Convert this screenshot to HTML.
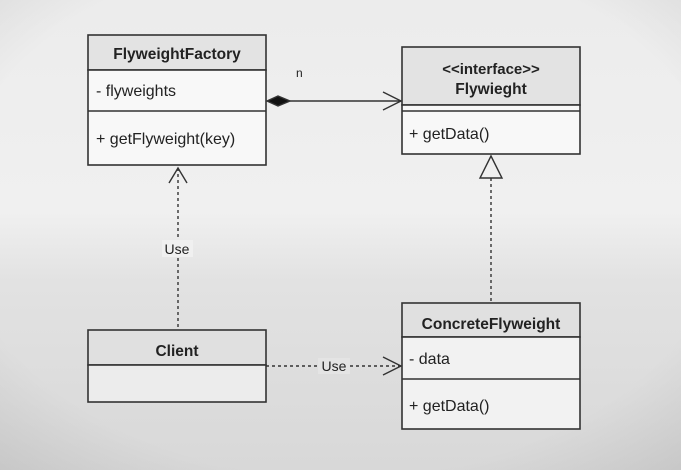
<!DOCTYPE html>
<html><head><style>
html,body{margin:0;padding:0}
body{width:681px;height:470px;overflow:hidden;background:linear-gradient(#ececec 0%,#f0f0f0 45%,#e2e2e2 60%,#d8d8d8 100%);font-family:"Liberation Sans",sans-serif}
</style></head><body>
<svg width="681" height="470" xmlns="http://www.w3.org/2000/svg" style="position:absolute;left:0;top:0">
<defs>
<radialGradient id="v" cx="50%" cy="45%" r="75%"><stop offset="75%" stop-color="#000" stop-opacity="0"/><stop offset="100%" stop-color="#000" stop-opacity="0.08"/></radialGradient>
</defs>
<rect width="681" height="470" fill="url(#v)"/>
<g stroke="#333" stroke-width="1.6" fill="none">
<rect x="88" y="35" width="178" height="35" fill="#e3e3e3"/>
<rect x="88" y="70" width="178" height="95" fill="#f8f8f8"/>
<line x1="88" y1="111" x2="266" y2="111"/>
<rect x="402" y="47" width="178" height="58" fill="#e3e3e3"/>
<rect x="402" y="105" width="178" height="49" fill="#f8f8f8"/>
<line x1="402" y1="111" x2="580" y2="111"/>
<rect x="88" y="330" width="178" height="35" fill="#e0e0e0"/>
<rect x="88" y="365" width="178" height="37" fill="#ececec"/>
<rect x="402" y="303" width="178" height="34" fill="#e0e0e0"/>
<rect x="402" y="337" width="178" height="92" fill="#f2f2f2"/>
<line x1="402" y1="379" x2="580" y2="379"/>
</g>
<g stroke="#333" stroke-width="1.4" fill="none">
<line x1="290" y1="101" x2="401" y2="101"/>
<polyline points="383,92 401,101 383,110"/>
<polygon points="267,101 278,96 290,101 278,106" fill="#111"/>
<line x1="178" y1="168" x2="178" y2="330" stroke-dasharray="3,3"/>
<polyline points="169,183 178,168 187,183"/>
<line x1="491" y1="178" x2="491" y2="303" stroke-dasharray="3,3"/>
<polygon points="491,156 480,178 502,178" fill="#f0f0f0"/>
<line x1="266" y1="366" x2="401" y2="366" stroke-dasharray="3,3"/>
<polyline points="383,357 401,366 383,375"/>
</g>
<rect x="162" y="240" width="31" height="17" fill="#f0f0f0"/>
<rect x="318" y="358" width="32" height="16" fill="#e4e4e4"/>
<g font-family="Liberation Sans, sans-serif" font-size="16" fill="#222">
<text x="177" y="59" text-anchor="middle" font-weight="bold" font-size="15.5">FlyweightFactory</text>
<text x="96" y="96">- flyweights</text>
<text x="96" y="144">+ getFlyweight(key)</text>
<text x="491" y="74" text-anchor="middle" font-weight="bold" font-size="15">&lt;&lt;interface&gt;&gt;</text>
<text x="491" y="94" text-anchor="middle" font-weight="bold" font-size="15.5">Flywieght</text>
<text x="409" y="139">+ getData()</text>
<text x="177" y="356" text-anchor="middle" font-weight="bold" font-size="15.5">Client</text>
<text x="491" y="329" text-anchor="middle" font-weight="bold" font-size="15.5">ConcreteFlyweight</text>
<text x="409" y="364">- data</text>
<text x="409" y="411">+ getData()</text>
<text x="296" y="77" font-size="12">n</text>
<text x="177" y="254" text-anchor="middle" font-size="14">Use</text>
<text x="334" y="371" text-anchor="middle" font-size="14">Use</text>
</g>
</svg>
</body></html>
